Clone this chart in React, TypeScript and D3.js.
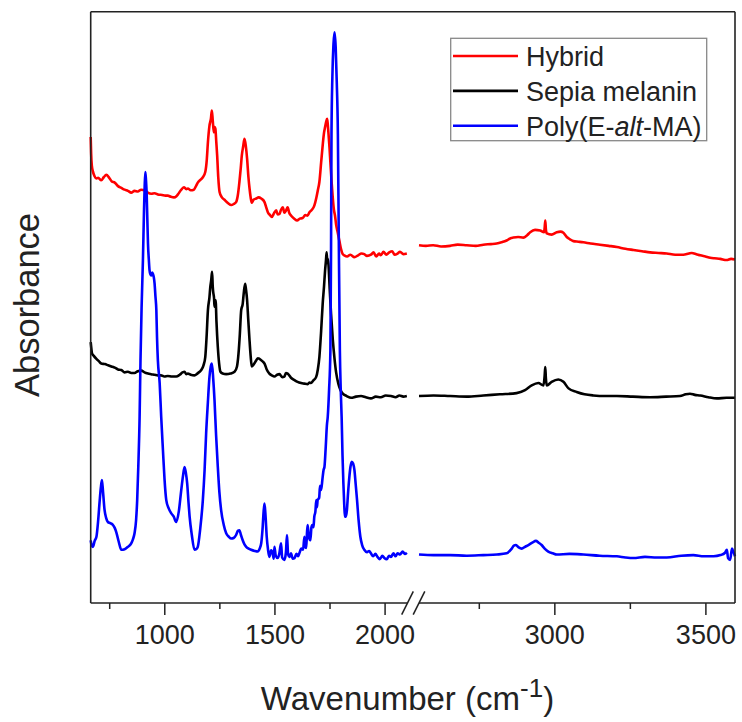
import React, { useEffect, useRef } from "react";
import * as d3 from "d3";

// FTIR spectra: [wavenumber (cm-1), absorbance (a.u., stacked with offsets)]
const hybrid: [number, number][] = [
  [666, 78.8], [668, 76], [671, 74.0], [676, 73.0], [683, 72.2], [692, 71.8], [700, 71.9], [714, 71.5],
  [725, 72.0], [737, 72.4], [750, 71.9], [762, 71.3], [775, 71.1], [790, 70.5], [805, 70.2], [820, 69.9],
  [835, 69.7], [850, 69.4], [865, 69.7], [880, 69.6], [895, 69.9], [911, 69.8], [925, 69.4], [941, 69.2],
  [956, 69.3], [971, 69.1], [990, 69.0], [1005, 68.9], [1016, 68.9], [1030, 68.7], [1044, 68.6], [1055, 68.8],
  [1062, 69.1], [1075, 69.8], [1089, 70.3], [1100, 70.0], [1107, 70.1], [1120, 69.8], [1134, 69.9], [1145, 70.6],
  [1152, 71.1], [1165, 71.6], [1175, 72.0], [1186, 72.9], [1193, 75], [1198, 77.9], [1205, 80.7], [1212, 82.0],
  [1216, 83.3], [1220, 81.6], [1225, 79.6], [1229, 80.5], [1232, 80.2], [1236, 78], [1240, 75.7], [1245, 72],
  [1251, 69.5], [1260, 68.7], [1273, 68.2], [1290, 67.6], [1304, 67.3], [1316, 67.5], [1326, 67.8], [1334, 69],
  [1341, 71.2], [1347, 73.5], [1352, 75.7], [1358, 77.2], [1364, 78.5], [1370, 77.3], [1376, 75.1], [1382, 72],
  [1387, 70.1], [1392, 68.6], [1397, 67.7], [1405, 68.2], [1417, 68.4], [1428, 68.6], [1440, 68.4], [1455, 67.8],
  [1462, 67.0], [1470, 66.1], [1480, 65.6], [1488, 65.3], [1498, 65.9], [1508, 66.4], [1515, 65.7], [1523, 65.8],
  [1530, 66.5], [1538, 66.9], [1545, 66.0], [1553, 66.4], [1560, 66.9], [1567, 66.0], [1576, 65.5], [1590, 65.0],
  [1603, 64.7], [1615, 65.0], [1628, 65.1], [1640, 65.6], [1650, 65.5], [1659, 66.1], [1670, 66.5], [1681, 67.2],
  [1690, 68.5], [1697, 69.8], [1704, 71.2], [1712, 74.5], [1719, 77.4], [1725, 79.5], [1730, 80.5], [1735, 81.4],
  [1739, 81.9], [1742, 81.0], [1745, 79.6], [1750, 77], [1754, 74.5], [1759, 71.5], [1764, 68.9], [1770, 66.5],
  [1775, 65.5], [1780, 64], [1787, 62.7], [1795, 61.2], [1802, 59.9], [1810, 59.0], [1817, 58.8], [1830, 58.6],
  [1845, 58.9], [1863, 58.5], [1880, 58.8], [1895, 59.1], [1908, 59.0], [1920, 58.7], [1938, 58.9], [1950, 59.3],
  [1962, 58.6], [1975, 59.1], [1983, 58.8], [1995, 59.4], [2008, 58.9], [2021, 59.3], [2035, 59.5], [2045, 58.9],
  [2059, 59.1], [2070, 59.4], [2085, 59.0], [2101, 59.1],
  [2552, 60.5], [2575, 60.4], [2599, 60.5], [2625, 60.3], [2655, 60.4], [2680, 60.6], [2710, 60.5], [2740, 60.4],
  [2765, 60.6], [2790, 60.7], [2809, 60.8], [2825, 61.0], [2842, 61.3], [2855, 61.7], [2864, 61.8], [2880, 61.9],
  [2897, 61.8], [2910, 62.2], [2920, 62.7], [2936, 63.1], [2953, 63.0], [2966, 62.7], [2968, 63.5], [2970, 64.7],
  [2972, 63.2], [2975, 62.5], [2991, 62.3], [3008, 62.7], [3020, 62.8], [3030, 62.6], [3041, 61.9], [3052, 61.5],
  [3063, 61.2], [3080, 61.1], [3096, 61.0], [3120, 60.8], [3151, 60.6], [3180, 60.4], [3207, 60.2], [3235, 59.9],
  [3262, 59.7], [3290, 59.5], [3317, 59.3], [3345, 59.2], [3372, 59.1], [3400, 58.9], [3427, 58.9], [3445, 59.1],
  [3455, 59.2], [3470, 59.0], [3483, 58.8], [3500, 58.6], [3516, 58.4], [3530, 58.3], [3549, 58.2], [3570, 58.0],
  [3585, 58.2], [3598, 58.1],
];

const sepia: [number, number][] = [
  [666, 44.1], [669, 43.0], [672, 42.2], [680, 41.8], [692, 41.3], [703, 40.9], [714, 40.5], [730, 40.4],
  [745, 40.2], [760, 40.0], [775, 39.8], [790, 39.5], [805, 39.4], [820, 39.0], [835, 39.1], [850, 38.9],
  [865, 38.9], [880, 39.2], [896, 39.3], [910, 39.0], [926, 38.8], [940, 38.7], [956, 38.6], [971, 38.5],
  [985, 38.5], [1000, 38.3], [1016, 38.4], [1035, 38.3], [1054, 38.3], [1070, 38.6], [1083, 39.0], [1092, 39.1],
  [1100, 38.7], [1107, 38.8], [1120, 38.6], [1137, 38.5], [1150, 38.8], [1160, 39.1], [1168, 39.4], [1178, 40.2],
  [1186, 41.6], [1192, 45], [1198, 49.5], [1205, 51.7], [1209, 53.5], [1213, 54.6], [1217, 56.0], [1220, 53.5],
  [1222, 52.6], [1226, 51.5], [1228, 50.1], [1233, 51.2], [1237, 47.5], [1243, 43.3], [1249, 40.5], [1255, 39.1],
  [1265, 38.8], [1281, 38.7], [1300, 38.8], [1319, 39.1], [1330, 40.0], [1337, 42.2], [1343, 45.5], [1349, 49.5],
  [1356, 50.6], [1361, 52.5], [1367, 54.0], [1371, 53.0], [1376, 51.2], [1381, 48], [1387, 44.4], [1392, 41.8],
  [1397, 40.0], [1405, 40.3], [1417, 41.0], [1425, 41.4], [1432, 41.3], [1445, 40.9], [1455, 40.5], [1465, 39.5],
  [1477, 38.8], [1488, 38.5], [1500, 38.3], [1512, 38.6], [1523, 38.7], [1535, 38.2], [1545, 38.3], [1552, 38.9],
  [1560, 38.8], [1575, 38.1], [1591, 37.7], [1605, 37.4], [1621, 37.2], [1635, 37.1], [1651, 37.0], [1660, 37.3],
  [1666, 37.2], [1676, 37.6], [1689, 38.2], [1697, 39.5], [1704, 41.6], [1712, 46], [1719, 50.6], [1725, 53.5],
  [1730, 56.3], [1734, 58.0], [1737, 59.3], [1740, 57.5], [1742, 58.2], [1745, 57.4], [1751, 53], [1757, 48.9],
  [1765, 44.5], [1772, 41.6], [1780, 39.0], [1790, 37.1], [1800, 36.0], [1810, 35.4], [1828, 35.0], [1848, 34.7],
  [1870, 34.9], [1893, 35.0], [1915, 34.8], [1938, 34.6], [1960, 34.9], [1983, 34.8], [2005, 35.1], [2029, 35.0],
  [2050, 34.8], [2067, 35.1], [2085, 34.9], [2101, 35.0],
  [2552, 35.0], [2600, 35.1], [2655, 35.0], [2710, 34.9], [2765, 35.1], [2820, 35.3], [2875, 35.5], [2903, 36.0],
  [2925, 36.8], [2947, 37.2], [2964, 36.8], [2968, 38.5], [2970, 39.9], [2972, 38.0], [2975, 36.8], [2991, 37.4],
  [3013, 37.8], [3030, 37.4], [3047, 36.3], [3074, 35.7], [3100, 35.3], [3129, 35.1], [3170, 35.0], [3207, 35.0],
  [3260, 34.9], [3317, 34.8], [3370, 34.9], [3416, 35.0], [3435, 35.3], [3449, 35.4], [3465, 35.2], [3483, 35.1],
  [3510, 34.8], [3538, 34.6], [3570, 34.7], [3598, 34.7],
];

const polyEMA: [number, number][] = [
  [666, 10.6], [670, 9.8], [676, 9.5], [684, 10.5], [692, 11.2], [700, 14], [707, 17.4], [712, 19.5],
  [717, 20.8], [722, 18.8], [729, 15.7], [736, 14.4], [744, 13.7], [755, 13.5], [767, 13.2], [775, 12.7],
  [782, 12.0], [793, 10.4], [805, 9.0], [820, 9.1], [835, 9.5], [850, 10.1], [858, 10.8], [865, 11.8],
  [872, 14], [877, 17.4], [882, 23], [888, 31.5], [892, 41.0], [897, 50], [903, 57.9], [908, 66.4],
  [911, 70.5], [914, 72.9], [917, 71.5], [920, 69.2], [923, 65], [926, 60.8], [930, 58], [933, 56.3],
  [937, 55.6], [941, 55.4], [945, 55.9], [948, 55.7], [952, 55.2], [956, 54.0], [960, 51.8], [964, 49.5],
  [967, 45], [971, 41.0], [979, 37.2], [986, 31.5], [994, 25.8], [1001, 21], [1009, 17.4], [1020, 16.0],
  [1031, 15.2], [1043, 14.6], [1054, 13.7], [1066, 15.5], [1077, 19.1], [1085, 21.5], [1092, 23.0], [1098, 22.0],
  [1104, 20.2], [1110, 17], [1115, 14.6], [1125, 11.5], [1137, 9.0], [1145, 9.1], [1152, 9.5], [1163, 12.5],
  [1175, 17.4], [1183, 22.5], [1190, 28.7], [1198, 34], [1205, 38.2], [1211, 40.0], [1216, 40.5], [1222, 38],
  [1228, 34.3], [1235, 28.5], [1243, 23.0], [1250, 18.8], [1258, 15.7], [1270, 13.2], [1281, 11.8], [1293, 11.2],
  [1304, 10.9], [1315, 11.0], [1326, 11.5], [1334, 12.2], [1341, 12.3], [1348, 11.5], [1356, 10.6], [1364, 9.9],
  [1372, 9.5], [1383, 9.2], [1394, 9.0], [1410, 8.8], [1424, 8.7], [1433, 9.2], [1440, 10.1], [1446, 12.5],
  [1451, 15.5], [1455, 16.8], [1460, 14.5], [1465, 11.2], [1471, 9], [1477, 7.8], [1485, 8.9], [1492, 8.4],
  [1497, 7.5], [1500, 9.5], [1506, 8.0], [1515, 7.6], [1522, 8.3], [1530, 10.1], [1535, 7.7], [1545, 7.3],
  [1552, 8.5], [1557, 11.5], [1562, 8.2], [1568, 7.8], [1575, 8.4], [1583, 7.5], [1591, 7.6], [1600, 8.3],
  [1607, 7.9], [1613, 8.4], [1622, 9.2], [1630, 9.0], [1636, 11.2], [1640, 9.5], [1644, 9.3], [1648, 12],
  [1651, 13.2], [1656, 11.2], [1663, 10.6], [1668, 12.8], [1672, 13.2], [1677, 12.8], [1681, 14.6], [1686, 15.5],
  [1690, 17.4], [1693, 16.2], [1696, 17.4], [1703, 17.8], [1707, 19.8], [1712, 19.1], [1718, 21], [1723, 22.5],
  [1727, 23.0], [1733, 26.5], [1738, 30], [1742, 31.5], [1748, 36], [1754, 42.7], [1757, 60], [1759, 79.3],
  [1763, 89], [1768, 94.5], [1773, 96.5], [1778, 94], [1783, 88], [1788, 79.3], [1792, 62], [1797, 42.7],
  [1801, 36], [1805, 31.5], [1809, 25], [1813, 20.2], [1817, 16.5], [1820, 14.6], [1824, 14.6], [1829, 15.7],
  [1834, 18.5], [1840, 21.3], [1845, 23.0], [1851, 23.9], [1857, 23.6], [1863, 22.5], [1869, 20], [1875, 17.4],
  [1882, 14], [1890, 11.2], [1898, 9.8], [1908, 9.0], [1920, 8.6], [1930, 8.8], [1938, 8.4], [1948, 7.9],
  [1958, 8.3], [1968, 7.8], [1978, 7.4], [1990, 8.0], [1999, 7.6], [2010, 7.4], [2020, 8.0], [2029, 7.8],
  [2040, 8.4], [2050, 7.9], [2059, 8.4], [2070, 8.2], [2082, 8.7], [2092, 8.3], [2101, 8.5],
  [2552, 8.2], [2600, 8.1], [2655, 8.1], [2710, 8.0], [2765, 8.1], [2810, 8.2], [2842, 8.4], [2852, 8.8],
  [2859, 9.2], [2866, 9.7], [2873, 9.8], [2882, 9.4], [2892, 9.2], [2903, 9.5], [2914, 9.8], [2927, 10.2],
  [2939, 10.5], [2948, 10.2], [2958, 9.8], [2968, 9.2], [2980, 8.7], [2995, 8.4], [3008, 8.2], [3050, 8.3],
  [3096, 8.2], [3150, 8.0], [3207, 7.9], [3235, 7.7], [3262, 7.6], [3300, 7.8], [3340, 7.7], [3372, 7.7],
  [3420, 8.0], [3460, 8.1], [3495, 7.9], [3527, 7.9], [3550, 8.1], [3565, 8.5], [3571, 9.0], [3575, 7.6],
  [3582, 7.3], [3588, 9.2], [3593, 8.6], [3598, 7.9],
];

const seriesNames = ["Hybrid", "Sepia melanin", "Poly(E-alt-MA)"];
const seriesColors = ["#ff0000", "#000000", "#0000ff"];

// broken x axis: two segments
const lowDomain = [666, 2104];
const highDomain = [2552, 3598];
const majorLow = [1000, 1500, 2000];
const minorLow = [750, 1250, 1750];
const majorHigh = [3000, 3500];
const minorHigh = [2750, 3250];

const FONT = "'Liberation Sans', Arial, Helvetica, sans-serif";

export default function App() {
  const ref = useRef<SVGSVGElement>(null);

  useEffect(() => {
    document.body.style.margin = "0";
    const svg = d3.select(ref.current);
    svg.selectAll("*").remove();

    const left = 90.7, right = 735, top = 11.7, bottom = 603;
    const breakLo = 407.5, breakHi = 419;
    const axisColor = "#222";

    const xLow = d3.scaleLinear().domain(lowDomain).range([left, breakLo]);
    const xHigh = d3.scaleLinear().domain(highDomain).range([breakHi, right]);
    const y = d3.scaleLinear().domain([0, 100]).range([bottom, top]);

    svg.append("rect").attr("width", 742).attr("height", 722).attr("fill", "#fff");

    // spectra, one path per axis segment
    const series = [hybrid, sepia, polyEMA];
    series.forEach((data, i) => {
      const segs: [d3.ScaleLinear<number, number>, [number, number][]][] = [
        [xLow, data.filter((d) => d[0] <= lowDomain[1])],
        [xHigh, data.filter((d) => d[0] >= highDomain[0])],
      ];
      segs.forEach(([xs, pts]) => {
        const line = d3
          .line<[number, number]>()
          .x((d) => xs(d[0]))
          .y((d) => y(d[1]))
          .curve(d3.curveMonotoneX);
        svg
          .append("path")
          .attr("d", line(pts))
          .attr("fill", "none")
          .attr("stroke", seriesColors[i])
          .attr("stroke-width", 2.6)
          .attr("stroke-linejoin", "round");
      });
    });

    // ticks + labels
    const styleAxis = (g: any) => {
      g.select(".domain").remove();
      g.selectAll("line").attr("stroke", axisColor).attr("stroke-width", 1.5);
      g.selectAll("text")
        .attr("fill", "#222")
        .style("font-family", FONT)
        .style("font-size", "27px");
    };
    const axes: [d3.ScaleLinear<number, number>, number[], number[]][] = [
      [xLow, majorLow, minorLow],
      [xHigh, majorHigh, minorHigh],
    ];
    axes.forEach(([xs, major, minor]) => {
      svg
        .append("g")
        .attr("transform", `translate(0,${bottom})`)
        .call(d3.axisBottom(xs).tickValues(major).tickSize(12).tickPadding(10).tickFormat(d3.format("d")))
        .call(styleAxis);
      svg
        .append("g")
        .attr("transform", `translate(0,${bottom})`)
        .call(d3.axisBottom(xs).tickValues(minor).tickSize(6).tickFormat(() => ""))
        .call(styleAxis);
    });

    // frame with axis break
    const frame = svg.append("g").attr("stroke", axisColor).attr("stroke-width", 1.6).attr("fill", "none");
    frame.append("line").attr("x1", left).attr("x2", right).attr("y1", top).attr("y2", top);
    frame.append("line").attr("x1", left).attr("x2", left).attr("y1", top).attr("y2", bottom);
    frame.append("line").attr("x1", right).attr("x2", right).attr("y1", top).attr("y2", bottom);
    frame.append("line").attr("x1", left).attr("x2", breakLo).attr("y1", bottom).attr("y2", bottom);
    frame.append("line").attr("x1", breakHi).attr("x2", right).attr("y1", bottom).attr("y2", bottom);
    [breakLo, breakHi].forEach((bx) => {
      frame
        .append("line")
        .attr("x1", bx - 5.8)
        .attr("y1", bottom + 11.7)
        .attr("x2", bx + 5.8)
        .attr("y2", bottom - 11.7)
        .attr("stroke-width", 1.5);
    });

    // axis titles
    const xt = svg
      .append("text")
      .attr("x", 407.5)
      .attr("y", 710)
      .attr("text-anchor", "middle")
      .style("font-family", FONT)
      .style("font-size", "33px")
      .attr("fill", "#222");
    xt.append("tspan").text("Wavenumber (cm");
    xt.append("tspan").attr("dy", -13).style("font-size", "26px").text("-1");
    xt.append("tspan").attr("dy", 13).text(")");

    svg
      .append("text")
      .attr("transform", "translate(39,305) rotate(-90)")
      .attr("text-anchor", "middle")
      .style("font-family", FONT)
      .style("font-size", "34.5px")
      .attr("fill", "#222")
      .text("Absorbance");

    // legend
    const lg = svg.append("g");
    lg.append("rect")
      .attr("x", 450.7)
      .attr("y", 38.3)
      .attr("width", 256)
      .attr("height", 102.4)
      .attr("fill", "#fff")
      .attr("stroke", "#888")
      .attr("stroke-width", 1.3);
    seriesNames.forEach((name, i) => {
      const ry = 56 + i * 34.85;
      lg.append("line")
        .attr("x1", 453)
        .attr("x2", 518)
        .attr("y1", ry)
        .attr("y2", ry)
        .attr("stroke", seriesColors[i])
        .attr("stroke-width", 2.6);
      const t = lg
        .append("text")
        .attr("x", 526)
        .attr("y", ry + 10)
        .style("font-family", FONT)
        .style("font-size", "27px")
        .attr("fill", "#222");
      if (name.includes("-alt-")) {
        t.append("tspan").text("Poly(E-");
        t.append("tspan").style("font-style", "italic").text("alt");
        t.append("tspan").text("-MA)");
      } else {
        t.text(name);
      }
    });
  }, []);

  return <svg ref={ref} width={742} height={722} style={{ display: "block" }} />;
}
